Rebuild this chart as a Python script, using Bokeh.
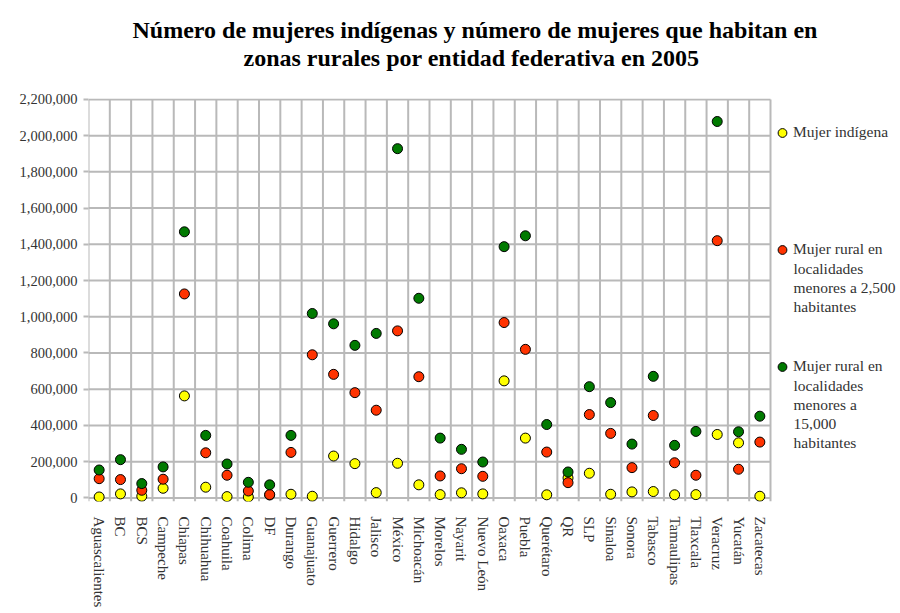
from bokeh.plotting import figure
from bokeh.models import (Range1d, FixedTicker, NumeralTickFormatter, Legend, LegendItem,
                          Title, Label)
from bokeh.embed import file_html
from bokeh.resources import INLINE

states = ["Aguascalientes", "BC", "BCS", "Campeche", "Chiapas", "Chihuahua", "Coahuila",
          "Colima", "DF", "Durango", "Guanajuato", "Guerrero", "Hidalgo", "Jalisco",
          "México", "Michoacán", "Morelos", "Nayarit", "Nuevo León", "Oaxaca", "Puebla",
          "Querétaro", "QR", "SLP", "Sinaloa", "Sonora", "Tabasco", "Tamaulipas",
          "Tlaxcala", "Veracruz", "Yucatán", "Zacatecas"]

mujer_indigena = [5000, 22000, 9000, 53000, 563000, 59000, 7000, 5000, 16000, 20000,
                  9000, 231000, 189000, 29000, 191000, 72000, 18000, 28000, 22000, 646000,
                  330000, 17000, 110000, 136000, 20000, 33000, 35000, 17000, 18000, 350000,
                  304000, 9000]

rural_2500 = [106000, 101000, 42000, 103000, 1126000, 249000, 125000, 38000, 18000, 251000,
              790000, 682000, 581000, 484000, 922000, 669000, 121000, 161000, 119000, 968000,
              820000, 253000, 84000, 460000, 356000, 167000, 455000, 194000, 125000, 1420000,
              158000, 308000]

rural_15000 = [154000, 211000, 79000, 171000, 1469000, 345000, 187000, 86000, 72000, 345000,
               1018000, 961000, 842000, 908000, 1928000, 1102000, 330000, 268000, 198000, 1387000,
               1447000, 405000, 143000, 614000, 526000, 297000, 671000, 290000, 367000, 2078000,
               365000, 451000]

legend_lines = [["Mujer indígena"],
                ["Mujer rural en", "localidades", "menores a 2,500", "habitantes"],
                ["Mujer rural en", "localidades", "menores a", "15,000", "habitantes"]]
title_lines = ["Número de mujeres indígenas y número de mujeres que habitan en",
               "zonas rurales por entidad federativa en 2005"]
y_ticks = list(range(0, 2200001, 200000))

GRID = "#b9b9b9"
SERIF = "Liberation Serif"
TXT = "#333333"

# layout (pixels in the page)
W, H = 900, 613
FL, FR, FT, FB = 88, 770, 98, 501
Y0, Y1 = -20000, 2205000
n = len(states)
PXU = (FR - FL) / n                      # pixels per category
x_end = (W - FL) / PXU                    # frame runs to the right edge (legend area)


def dxp(px):
    return (px - FL) / PXU


def dyp(py):
    return Y0 + (FB - py) / (FB - FT) * (Y1 - Y0)


xc = [i + 0.5 for i in range(n)]

p = figure(width=W, height=H, output_backend="svg", toolbar_location=None,
           x_range=Range1d(0, x_end), y_range=Range1d(Y0, Y1),
           min_border_left=FL, min_border_right=0, min_border_top=FT, min_border_bottom=H - FB)
p.background_fill_color = "white"
p.border_fill_color = "white"
p.outline_line_color = None
p.xgrid.grid_line_color = None
p.ygrid.grid_line_color = None

# titles: stacked from the frame outwards -> spacer, second line, first line
title_style = dict(text_font=SERIF, text_font_style="bold", text_font_size="24px",
                   text_color="black")
p.title.text = title_lines[0]
p.title.align = "left"
p.title.offset = 44
p.title.standoff = 0
for k, v in title_style.items():
    setattr(p.title, k, v)
p.add_layout(Title(text=" ", align="left", offset=0, standoff=0, **title_style), "above")
p.add_layout(Title(text=title_lines[1], align="left", offset=155, standoff=0, **title_style),
             "above")

# grid lines limited to the data area
p.segment(x0=[0] * len(y_ticks), x1=[n] * len(y_ticks), y0=y_ticks, y1=y_ticks,
          line_color=GRID, line_width=2)
p.segment(x0=list(range(n + 1)), x1=list(range(n + 1)), y0=[Y0] * (n + 1),
          y1=[y_ticks[-1]] * (n + 1), line_color=GRID, line_width=2)

yax = p.yaxis[0]
yax.ticker = FixedTicker(ticks=y_ticks)
yax.formatter = NumeralTickFormatter(format="0,0")
yax.axis_line_color = None
yax.major_tick_line_color = GRID
yax.major_tick_line_width = 2
yax.major_tick_out = 5
yax.major_tick_in = 0
yax.minor_tick_line_color = None
yax.major_label_standoff = 6
yax.major_label_text_font = SERIF
yax.major_label_text_font_size = "14.5px"
yax.major_label_text_color = TXT

xax = p.xaxis[0]
xax.ticker = FixedTicker(ticks=xc)
xax.major_label_overrides = {x: s for x, s in zip(xc, states)}
xax.axis_line_color = None
xax.major_tick_line_color = None
xax.minor_tick_line_color = None
xax.major_label_orientation = "vertical"
xax.major_label_standoff = 9
xax.major_label_text_font = SERIF
xax.major_label_text_font_size = "15px"
xax.major_label_text_color = TXT

colors = ["#FFFF00", "#FF3300", "#007A00"]
renderers = []
for vals, col in zip([mujer_indigena, rural_2500, rural_15000], colors):
    r = p.scatter(x=xc, y=vals, size=10, fill_color=col, line_color="black", line_width=1)
    renderers.append(r)

# legend: one entry per series, continuation lines as labels
GW = 22
MX = 782                     # legend marker centre (page px)
item_centers = [132, 249, 366]
for c, lines, r in zip(item_centers, legend_lines, renderers):
    lg = Legend(items=[LegendItem(label=lines[0], renderers=[r])],
                location=(MX - GW / 2 - FL, FB - c - 12.5),
                glyph_width=GW, glyph_height=25, label_height=19, label_standoff=0,
                padding=0, margin=0, border_line_color=None, background_fill_alpha=0,
                label_text_font=SERIF, label_text_font_size="15.5px", label_text_color=TXT)
    p.add_layout(lg, "center")
    for k, ln in enumerate(lines[1:]):
        p.add_layout(Label(x=dxp(MX + GW / 2), y=dyp(c + 19 * (k + 1)), text=ln,
                           text_baseline="middle", text_font=SERIF, text_font_size="15.5px",
                           text_color=TXT))

open("out.html", "w").write(file_html(p, INLINE))
